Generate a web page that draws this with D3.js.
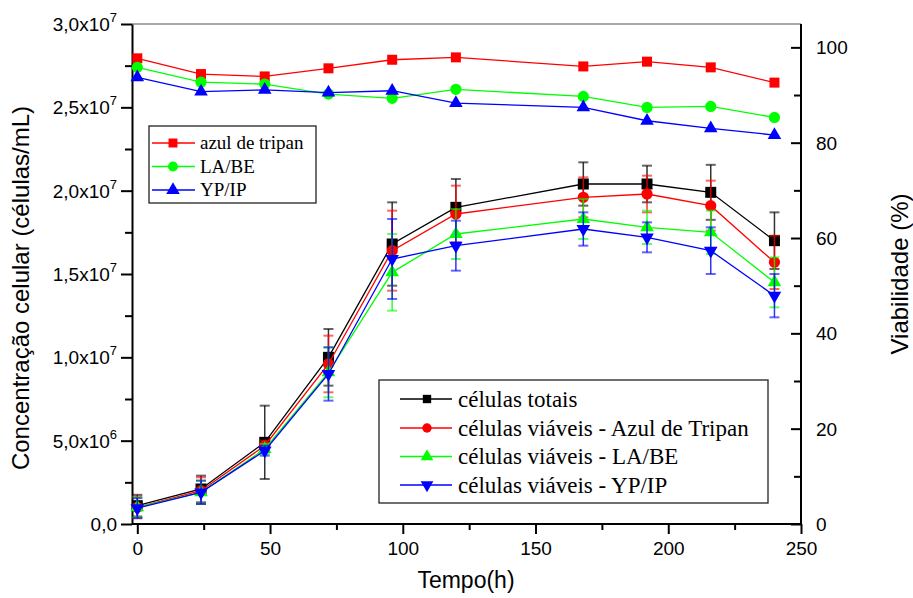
<!DOCTYPE html>
<html>
<head>
<meta charset="utf-8">
<script src="https://cdn.jsdelivr.net/npm/d3@7"></script>
<style>
  body { margin: 0; background: #fff; }
  svg { display: block; }
</style>
</head>
<body>
<svg id="chart" width="913" height="598"></svg>
<script>
// time points (h)
const times = [0, 24, 48, 72, 96, 120, 168, 192, 216, 240]

// cell concentration (cells/mL) and standard deviation
const totalCells = [1.1e6, 2.1e6, 4.9e6, 1.0e7, 1.68e7, 1.90e7, 2.04e7, 2.04e7, 1.99e7, 1.70e7]
const totalErr = [0.65e6, 0.8e6, 2.2e6, 1.7e6, 2.5e6, 1.7e6, 1.3e6, 1.1e6, 1.65e6, 1.7e6]
const viableTripan = [1.0e6, 2.0e6, 4.7e6, 9.6e6, 1.64e7, 1.86e7, 1.96e7, 1.98e7, 1.91e7, 1.57e7]
const viableTripanErr = [0.65e6, 0.8e6, 0.3e6, 1.7e6, 2.4e6, 1.7e6, 1.2e6, 1.1e6, 1.5e6, 1.6e6]
const viableLABE = [1.0e6, 1.9e6, 4.5e6, 9.1e6, 1.51e7, 1.74e7, 1.83e7, 1.78e7, 1.75e7, 1.45e7]
const viableLABEErr = [0.6e6, 0.7e6, 0.3e6, 1.5e6, 2.3e6, 1.5e6, 1.2e6, 1.0e6, 1.3e6, 1.5e6]
const viableYPIP = [0.95e6, 1.9e6, 4.4e6, 9.0e6, 1.59e7, 1.67e7, 1.77e7, 1.72e7, 1.64e7, 1.37e7]
const viableYPIPErr = [0.6e6, 0.7e6, 0.3e6, 1.6e6, 2.4e6, 1.5e6, 1.0e6, 0.9e6, 1.4e6, 1.3e6]

// viability (%)
const viabTripan = [97.7, 94.4, 93.9, 95.6, 97.4, 97.9, 96.0, 97.0, 95.8, 92.6]
const viabLABE = [95.8, 92.7, 92.3, 90.2, 89.3, 91.2, 89.7, 87.4, 87.6, 85.3]
const viabYPIP = [93.7, 90.7, 91.1, 90.5, 90.9, 88.3, 87.4, 84.6, 83.0, 81.6]

// ticks
const xTicks = [0, 50, 100, 150, 200, 250]
const xMinor = [25, 75, 125, 175, 225]
const leftTicks = [0, 5e6, 1e7, 1.5e7, 2e7, 2.5e7, 3e7]
const leftMinor = [2.5e6, 7.5e6, 1.25e7, 1.75e7, 2.25e7, 2.75e7]
const rightTicks = [0, 20, 40, 60, 80, 100]
const rightMinor = [10, 30, 50, 70, 90]

const sansFont = "'Liberation Sans', Arial, sans-serif"
const serifFont = "'Liberation Serif', 'Times New Roman', serif"

const svg = d3.select("#chart")
const x = d3.scaleLinear().domain([-2, 250]).range([132, 801])
const yLeft = d3.scaleLinear().domain([0, 3e7]).range([524, 24])
const yRight = d3.scaleLinear().domain([0, 104.9]).range([524, 24])

const concSeries = [
  { name: "células totais", values: totalCells, err: totalErr, color: "#000000", symbol: d3.symbolSquare, size: 121, rotate: 0 },
  { name: "células viáveis - Azul de Tripan", values: viableTripan, err: viableTripanErr, color: "#ff0000", symbol: d3.symbolCircle, size: 100, rotate: 0 },
  { name: "células viáveis - LA/BE", values: viableLABE, err: viableLABEErr, color: "#00ff00", symbol: d3.symbolTriangle, size: 80, rotate: 0 },
  { name: "células viáveis - YP/IP", values: viableYPIP, err: viableYPIPErr, color: "#0000ff", symbol: d3.symbolTriangle, size: 80, rotate: 180 },
]

const viabSeries = [
  { name: "azul de tripan", values: viabTripan, color: "#ff0000", symbol: d3.symbolSquare, size: 100, rotate: 0 },
  { name: "LA/BE", values: viabLABE, color: "#00ff00", symbol: d3.symbolCircle, size: 100, rotate: 0 },
  { name: "YP/IP", values: viabYPIP, color: "#0000ff", symbol: d3.symbolTriangle, size: 80, rotate: 0 },
]

function formatLeft(v) {
  if (v === 0) return { base: "0,0", exp: "" }
  const exp = Math.floor(Math.log10(v) + 1e-9)
  const mant = (v / Math.pow(10, exp)).toFixed(1).replace(".", ",")
  return { base: `${mant}x10`, exp: String(exp) }
}

// top frame
svg.append("line")
  .attr("x1", x(-2)).attr("x2", x(250))
  .attr("y1", yLeft(3e7)).attr("y2", yLeft(3e7))
  .attr("stroke", "#8a8a8a").attr("stroke-width", 1.5)

// bottom axis
const bottom = svg.append("g").attr("transform", `translate(0,${yLeft(0)})`)
bottom.append("g")
  .call(d3.axisBottom(x).tickValues(xMinor).tickSize(6).tickFormat(""))
  .call((axis) => axis.select(".domain").remove())
bottom.append("g")
  .call(d3.axisBottom(x).tickValues(xTicks).tickSize(10).tickSizeOuter(0).tickPadding(8))
  .call((axis) => axis.select(".domain").attr("d", `M${x(-2)},0H${x(250)}`))
bottom.selectAll("path,line").attr("stroke", "#000").attr("stroke-width", 2)
bottom.selectAll("text").attr("font-family", sansFont).attr("font-size", 19).attr("fill", "#000")

// left axis
const left = svg.append("g").attr("transform", `translate(${x(-2)},0)`)
left.append("g")
  .call(d3.axisLeft(yLeft).tickValues(leftMinor).tickSize(7).tickFormat(""))
  .call((axis) => axis.select(".domain").remove())
left.append("g")
  .call(d3.axisLeft(yLeft).tickValues(leftTicks).tickSize(11).tickSizeOuter(0).tickPadding(4).tickFormat(""))
left.selectAll("path,line").attr("stroke", "#000").attr("stroke-width", 2)
left.selectAll(".leftLabel")
  .data(leftTicks)
  .join("text")
  .attr("class", "leftLabel")
  .attr("x", -15)
  .attr("y", (d) => yLeft(d) + 7)
  .attr("text-anchor", "end")
  .attr("font-family", sansFont)
  .attr("font-size", 19)
  .each(function (d) {
    const label = formatLeft(d)
    const t = d3.select(this)
    t.append("tspan").text(label.base)
    if (label.exp) t.append("tspan").attr("dy", -9).attr("font-size", 13).text(label.exp)
  })

// right axis (ticks inward)
const right = svg.append("g").attr("transform", `translate(${x(250)},0)`)
right.append("g")
  .call(d3.axisLeft(yRight).tickValues(rightMinor).tickSize(7).tickFormat(""))
  .call((axis) => axis.select(".domain").remove())
right.append("g")
  .call(d3.axisLeft(yRight).tickValues(rightTicks).tickSize(10).tickSizeOuter(0).tickFormat(""))
  .call((axis) => axis.select(".domain").attr("d", `M0,${yLeft(3e7)}V${yLeft(0)}`))
right.selectAll("path,line").attr("stroke", "#000").attr("stroke-width", 2)
right.selectAll(".rightLabel")
  .data(rightTicks)
  .join("text")
  .attr("class", "rightLabel")
  .attr("x", 15)
  .attr("y", (d) => yRight(d) + 7)
  .attr("font-family", sansFont)
  .attr("font-size", 19)
  .text((d) => d)

// axis titles
svg.append("text")
  .attr("transform", "translate(29,288) rotate(-90)")
  .attr("text-anchor", "middle")
  .attr("font-family", sansFont)
  .attr("font-size", 24)
  .text("Concentração celular (células/mL)")

svg.append("text")
  .attr("transform", "translate(908,274) rotate(-90)")
  .attr("text-anchor", "middle")
  .attr("font-family", sansFont)
  .attr("font-size", 24)
  .text("Viabilidade (%)")

svg.append("text")
  .attr("x", 466)
  .attr("y", 588)
  .attr("text-anchor", "middle")
  .attr("font-family", sansFont)
  .attr("font-size", 23)
  .text("Tempo(h)")

function symbolPath(s) {
  return d3.symbol().type(s.symbol).size(s.size)()
}

// concentration series with error bars
const cap = 5
concSeries.forEach((s) => {
  const g = svg.append("g")
  const pts = times.map((t, i) => ({ t, v: s.values[i], e: s.err[i] }))
  g.append("path")
    .datum(pts)
    .attr("d", d3.line().x((d) => x(d.t)).y((d) => yLeft(d.v)))
    .attr("fill", "none")
    .attr("stroke", s.color)
    .attr("stroke-width", 1.3)
  const bars = g.selectAll(".err").data(pts).join("g").attr("class", "err")
  bars.append("line")
    .attr("x1", (d) => x(d.t)).attr("x2", (d) => x(d.t))
    .attr("y1", (d) => yLeft(d.v - d.e)).attr("y2", (d) => yLeft(d.v + d.e))
    .attr("stroke", s.color).attr("stroke-width", 1.5).attr("opacity", 0.8)
  ;[-1, 1].forEach((sign) => {
    bars.append("line")
      .attr("x1", (d) => x(d.t) - cap).attr("x2", (d) => x(d.t) + cap)
      .attr("y1", (d) => yLeft(d.v + sign * d.e)).attr("y2", (d) => yLeft(d.v + sign * d.e))
      .attr("stroke", s.color).attr("stroke-width", 2).attr("opacity", 0.6)
  })
  g.selectAll(".mark").data(pts).join("path").attr("class", "mark")
    .attr("d", symbolPath(s))
    .attr("transform", (d) => `translate(${x(d.t)},${yLeft(d.v)}) rotate(${s.rotate})`)
    .attr("fill", s.color)
})

// viability series
viabSeries.forEach((s) => {
  const g = svg.append("g")
  const pts = times.map((t, i) => ({ t, v: s.values[i] }))
  g.append("path")
    .datum(pts)
    .attr("d", d3.line().x((d) => x(d.t)).y((d) => yRight(d.v)))
    .attr("fill", "none")
    .attr("stroke", s.color)
    .attr("stroke-width", 1.3)
  g.selectAll(".mark").data(pts).join("path").attr("class", "mark")
    .attr("d", symbolPath(s))
    .attr("transform", (d) => `translate(${x(d.t)},${yRight(d.v)})`)
    .attr("fill", s.color)
})

// legends
function legend(items, box, rows, opts) {
  const g = svg.append("g")
  g.append("rect")
    .attr("x", box.x).attr("y", box.y).attr("width", box.w).attr("height", box.h)
    .attr("fill", "#fff").attr("stroke", "#222").attr("stroke-width", 1.3)
  items.forEach((s, i) => {
    const cy = rows[i]
    g.append("line")
      .attr("x1", opts.lineX[0]).attr("x2", opts.lineX[1])
      .attr("y1", cy).attr("y2", cy)
      .attr("stroke", s.color).attr("stroke-width", 1.3)
    g.append("path")
      .attr("d", d3.symbol().type(s.symbol).size(opts.markSize)())
      .attr("transform", `translate(${opts.markX},${cy}) rotate(${s.rotate})`)
      .attr("fill", s.color)
    g.append("text")
      .attr("x", opts.textX).attr("y", cy + opts.fontSize * 0.33)
      .attr("font-family", serifFont)
      .attr("font-size", opts.fontSize)
      .text(s.name)
  })
}

legend(viabSeries, { x: 149, y: 126, w: 167, h: 77 }, [143, 166.5, 190],
  { lineX: [152, 195], markX: 173, markSize: 80, textX: 200, fontSize: 19 })

legend(concSeries, { x: 379, y: 380, w: 389, h: 123 }, [399, 428, 456.5, 485],
  { lineX: [400, 452], markX: 427, markSize: 70, textX: 458, fontSize: 23 })
</script>
</body>
</html>
